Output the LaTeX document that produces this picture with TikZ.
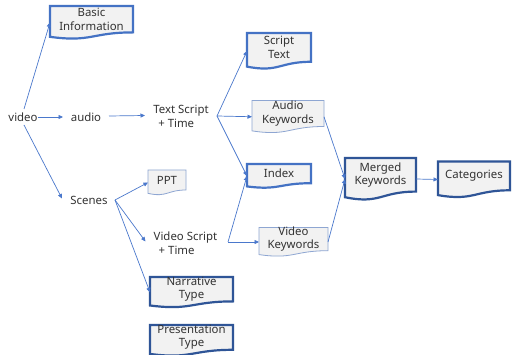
\documentclass[tikz,border=0pt]{standalone}
\usepackage{fontspec}
\setmainfont{Noto Sans}
\usetikzlibrary{calc,arrows.meta}
\definecolor{blueA}{HTML}{4472C4}
\definecolor{blueB}{HTML}{2F5597}
\definecolor{blueC}{HTML}{8EA6D2}
\definecolor{boxgray}{HTML}{F2F2F2}
\definecolor{txt}{HTML}{333333}
\definecolor{arrc}{HTML}{4A78CC}
\tikzset{
  docframe/.style={draw=none,inner sep=0pt,outer sep=0pt,rectangle,anchor=north west},
  doctext/.style={inner sep=0pt,align=center,text=txt,font=\fontsize{11.4}{13.5}\selectfont},
  plain/.style={inner sep=0pt,align=left,text=txt,font=\fontsize{11.4}{13.5}\selectfont},
  docA/.style={draw=blueA,line width=2.2pt,fill=boxgray},
  docB/.style={draw=blueB,line width=2.2pt,fill=boxgray},
  docC/.style={draw=blueC,line width=0.8pt,fill=boxgray},
  arr/.style={draw=arrc,line width=0.7pt,-{Triangle[length=4.5pt,width=4pt]}}
}
\newcommand{\docnode}[7]{%
  \node[docframe,minimum width=#4pt,minimum height=#5pt] (#1) at (#2,#3) {};
  \path[#6] (#1.north west) -- (#1.north east) -- ($(#1.north east)+(0,0.8*#5)$)
    .. controls ($(#1.north)+(0,0.8*#5)$) and ($(#1.north)+(0,1.107*#5)$) ..
    ($(#1.north west)+(0,0.934*#5)$) -- cycle;
  \node[doctext] (#1-t) at ($(#1.north)+(0,0.4*#5)$) {#7};
}
\begin{document}
\begin{tikzpicture}[x=1pt,y=-1pt]
\path[use as bounding box,fill=white] (0,0) rectangle (513,355);

\docnode{basic}{50}{6}{83}{33}{docA}{Basic\\Information}
\docnode{script}{247}{33}{64}{36}{docA}{Script\\Text}
\docnode{akw}{252}{100.5}{72}{32.5}{docC}{Audio\\Keywords}
\docnode{index}{247}{164}{64}{24}{docA}{Index}
\docnode{merged}{345}{158}{71}{42}{docB}{Merged\\Keywords}
\docnode{cat}{438}{161.5}{72}{36}{docB}{Categories}
\docnode{vkw}{259}{227.5}{69}{29}{docC}{Video\\Keywords}
\docnode{ppt}{148}{170}{38}{25}{docC}{PPT}
\docnode{narr}{150}{277}{83}{30.5}{docB}{Narrative\\Type}
\docnode{pres}{150}{325}{83}{31}{docB}{Presentation\\Type}

\node[plain] (video) at (23,117) {video};
\node[plain] (audio) at (86,117) {audio};
\node[plain] (tst) at (181,116.5) {Text Script\\\hspace*{5pt}+ Time};
\node[plain] (scenes) at (89,200.5) {Scenes};
\node[plain] (vst) at (185.5,243) {Video Script\\\hspace*{5pt}+ Time};

\draw[arr] ($(video)+(1,-8)$) -- (basic.west);
\draw[arr] ($(video)+(15,0)$) -- ($(audio)+(-23,0)$);
\draw[arr] ($(audio)+(23,-1)$) -- ($(tst)+(-36,-1)$);
\draw[arr] ($(video)+(1,8)$) -- ($(scenes)+(-27,-2)$);
\draw[arr] ($(tst)+(36,-0.5)$) -- (script.west);
\draw[arr] ($(tst)+(36,-0.5)$) -- (akw.west);
\draw[arr] ($(tst)+(36,-0.5)$) -- (index.west);
\draw[arr] ($(scenes)+(26,-0.5)$) -- (ppt.west);
\draw[arr] ($(scenes)+(26,-0.5)$) -- ($(vst)+(-40,-1.5)$);
\draw[arr] ($(scenes)+(26,-0.5)$) -- (narr.west);
\draw[arr] ($(vst)+(42.5,-1)$) -- (index.west);
\draw[arr] ($(vst)+(42.5,-1)$) -- (vkw.west);
\draw[arr] (akw.east) -- (merged.west);
\draw[arr] (vkw.east) -- (merged.west);
\draw[arr] (merged.east) -- (cat.west);
\end{tikzpicture}
\end{document}
